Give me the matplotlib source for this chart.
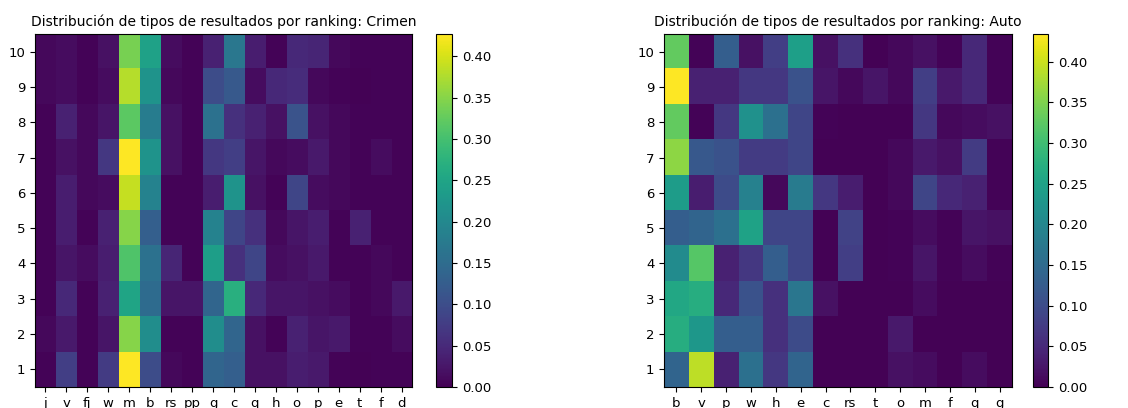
import matplotlib
matplotlib.use("Agg")
import matplotlib.pyplot as plt
import numpy as np

# rankings 1..10, each row is one ranking position
rankings = list(range(1, 11))

crimen_labels = ["j", "v", "fj", "w", "m", "b", "rs", "pp", "g", "c", "q", "h", "o", "p", "e", "t", "f", "d"]
crimen_values = [
    [0.005, 0.080, 0.005, 0.075, 0.427, 0.100, 0.010, 0.005, 0.140, 0.130, 0.020, 0.020, 0.035, 0.030, 0.005, 0.003, 0.005, 0.005],  # 1
    [0.010, 0.030, 0.005, 0.025, 0.350, 0.210, 0.005, 0.005, 0.210, 0.140, 0.020, 0.005, 0.040, 0.025, 0.030, 0.005, 0.005, 0.015],  # 2
    [0.005, 0.050, 0.005, 0.040, 0.250, 0.150, 0.025, 0.025, 0.140, 0.270, 0.050, 0.025, 0.025, 0.020, 0.015, 0.005, 0.010, 0.030],  # 3
    [0.005, 0.025, 0.015, 0.035, 0.310, 0.160, 0.045, 0.005, 0.240, 0.060, 0.090, 0.015, 0.020, 0.030, 0.005, 0.005, 0.010, 0.005],  # 4
    [0.005, 0.035, 0.005, 0.040, 0.350, 0.130, 0.005, 0.005, 0.190, 0.090, 0.060, 0.010, 0.025, 0.035, 0.005, 0.040, 0.005, 0.005],  # 5
    [0.005, 0.035, 0.010, 0.015, 0.390, 0.190, 0.005, 0.005, 0.035, 0.220, 0.020, 0.005, 0.090, 0.015, 0.010, 0.005, 0.005, 0.005],  # 6
    [0.005, 0.020, 0.010, 0.070, 0.427, 0.220, 0.020, 0.005, 0.070, 0.080, 0.025, 0.010, 0.015, 0.030, 0.010, 0.005, 0.015, 0.005],  # 7
    [0.005, 0.040, 0.010, 0.025, 0.320, 0.180, 0.020, 0.005, 0.160, 0.060, 0.040, 0.020, 0.110, 0.020, 0.010, 0.005, 0.005, 0.005],  # 8
    [0.010, 0.015, 0.005, 0.015, 0.380, 0.220, 0.010, 0.005, 0.100, 0.120, 0.015, 0.050, 0.055, 0.010, 0.005, 0.003, 0.005, 0.005],  # 9
    [0.010, 0.015, 0.005, 0.020, 0.340, 0.245, 0.015, 0.005, 0.040, 0.170, 0.035, 0.005, 0.050, 0.045, 0.010, 0.005, 0.005, 0.005],  # 10
]

auto_labels = ["b", "v", "p", "w", "h", "e", "c", "rs", "t", "o", "m", "f", "q", "g"]
auto_values = [
    [0.140, 0.390, 0.040, 0.160, 0.070, 0.140, 0.003, 0.003, 0.003, 0.020, 0.015, 0.003, 0.015, 0.003],  # 1
    [0.270, 0.230, 0.130, 0.130, 0.060, 0.100, 0.003, 0.003, 0.003, 0.030, 0.003, 0.003, 0.003, 0.003],  # 2
    [0.260, 0.270, 0.050, 0.110, 0.060, 0.170, 0.020, 0.003, 0.003, 0.003, 0.015, 0.003, 0.003, 0.003],  # 3
    [0.210, 0.320, 0.040, 0.070, 0.130, 0.090, 0.003, 0.080, 0.003, 0.005, 0.025, 0.005, 0.015, 0.005],  # 4
    [0.130, 0.140, 0.160, 0.250, 0.090, 0.090, 0.003, 0.085, 0.003, 0.005, 0.015, 0.005, 0.025, 0.020],  # 5
    [0.240, 0.035, 0.100, 0.190, 0.010, 0.180, 0.070, 0.035, 0.003, 0.010, 0.090, 0.050, 0.040, 0.005],  # 6
    [0.360, 0.120, 0.110, 0.075, 0.075, 0.090, 0.003, 0.003, 0.003, 0.010, 0.030, 0.020, 0.075, 0.005],  # 7
    [0.330, 0.005, 0.070, 0.220, 0.160, 0.090, 0.005, 0.003, 0.003, 0.003, 0.070, 0.010, 0.015, 0.020],  # 8
    [0.434, 0.040, 0.040, 0.070, 0.070, 0.110, 0.025, 0.010, 0.025, 0.010, 0.080, 0.030, 0.050, 0.005],  # 9
    [0.330, 0.005, 0.130, 0.020, 0.080, 0.245, 0.020, 0.060, 0.003, 0.010, 0.020, 0.005, 0.050, 0.005],  # 10
]

plt.rcParams['font.family'] = ['DejaVu Sans']
plt.rcParams['font.size'] = 9.5

fig = plt.figure(figsize=(11.28, 4.08), dpi=100)
W, H = 1128.0, 408.0

def panel(ax_px, cb_px, labels, values, title):
	# ax_px / cb_px: (left, right, top, bottom) in pixels
	l, r, t, b = ax_px
	ax = fig.add_axes([l / W, 1 - b / H, (r - l) / W, (b - t) / H])
	data = np.array(values)
	im = ax.imshow(data, origin='lower', aspect='auto', cmap='viridis', vmin=0,
		extent=(-0.5, len(labels) - 0.5, rankings[0] - 0.5, rankings[-1] + 0.5), interpolation='nearest')
	ax.set_xticks(range(len(labels)))
	ax.set_xticklabels(labels)
	ax.set_yticks(rankings)
	ax.set_title(title, fontsize=10, pad=6)
	l, r, t, b = cb_px
	cax = fig.add_axes([l / W, 1 - b / H, (r - l) / W, (b - t) / H])
	cbar = fig.colorbar(im, cax=cax)
	cbar.set_ticks(np.arange(0, 0.41, 0.05))
	return ax

panel((35, 412, 34, 387), (436, 452, 34, 387), crimen_labels, crimen_values,
	"Distribución de tipos de resultados por ranking: Crimen")
panel((664, 1012, 34, 387), (1033, 1048, 34, 387), auto_labels, auto_values,
	"Distribución de tipos de resultados por ranking: Auto")

fig.savefig("out.png", dpi=100)
